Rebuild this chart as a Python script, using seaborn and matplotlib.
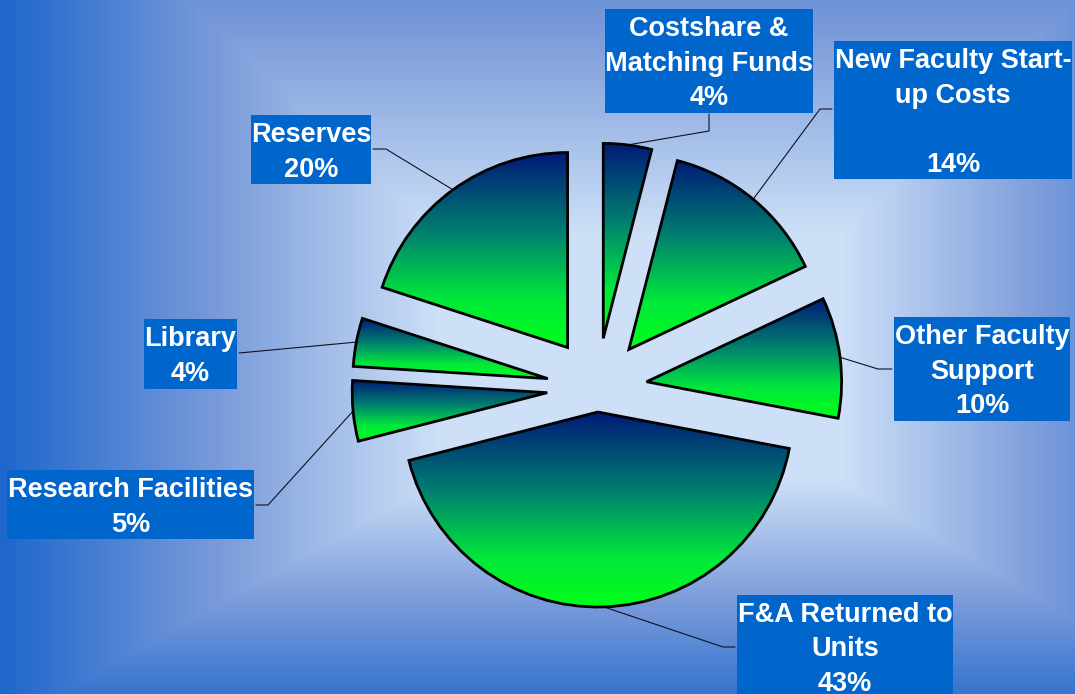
import numpy as np
import matplotlib
matplotlib.use("Agg")
import matplotlib.pyplot as plt
import seaborn as sns
from matplotlib.colors import LinearSegmentedColormap
from matplotlib.patches import Rectangle

# slices, clockwise from 12 o'clock
categories = ["Costshare &\nMatching Funds", "New Faculty Start-\nup Costs\n",
              "Other Faculty\nSupport", "F&A Returned to\nUnits",
              "Research Facilities", "Library", "Reserves"]
shares = [4, 14, 10, 43, 5, 4, 20]

# layout (pixels): label boxes, leader line start + elbow, slice explosion
boxes = [(605, 9, 813, 113), (834, 41, 1072, 179), (894, 317, 1070, 421),
         (737, 595, 953, 700), (7, 470, 254, 539), (144, 319, 237, 389),
         (251, 115, 371, 184)]
leaders = [((709, 114), (709, 131)), ((832, 109), (820, 109)),
           ((892, 369), (878, 369)), ((735, 647), (723, 647)),
           ((256, 505), (268, 505)), ((239, 353), (239, 353)),
           ((373, 149), (386, 149))]
explode = [50, 50, 50, 24, 50, 50, 50]

W, H = 1075, 694
sns.set_theme(style="white")
plt.rcParams["font.family"] = ["Liberation Sans", "DejaVu Sans"]

fig = plt.figure(figsize=(W / 100, H / 100), dpi=100)
ax = fig.add_axes([0, 0, 1, 1])

# background: rectangular gradient, light in the middle, blue at the edges
yy, xx = np.mgrid[0:H, 0:W] + 0.5
tx = np.maximum((440 - xx) / 440, (xx - 840) / 412)
ty = np.maximum((235 - yy) / 410, (yy - 480) / 245)
t = np.clip(np.maximum(tx, ty), 0, 1)
bg_cmap = sns.blend_palette(["#cde0f7", "#7a9bda", "#1f67cc"], as_cmap=True)
ax.imshow(t, cmap=bg_cmap, vmin=0, vmax=1, extent=(0, W, H, 0),
          aspect="auto", zorder=0, interpolation="bilinear")

wedges, _ = ax.pie(shares, explode=explode, startangle=-90, counterclock=True,
                   radius=195, center=(597, 388), frame=True,
                   wedgeprops=dict(edgecolor="black", linewidth=2.0,
                                   facecolor="none"))

wedge_cmap = LinearSegmentedColormap.from_list(
    "navy_green", [(0, "#001a78"), (0.4, "#007e70"), (0.75, "#00e83a"),
                   (1, "#00ff1a")])
grad = np.linspace(0, 1, 256)[:, None]
for w in wedges:
    ext = w.get_path().get_extents()
    im = ax.imshow(grad, cmap=wedge_cmap, extent=(ext.x0, ext.x1, ext.y1, ext.y0),
                   aspect="auto", zorder=2, interpolation="bilinear")
    im.set_clip_path(w)
    w.set_zorder(3)

for w, name, share, (x0, y0, x1, y1), (start, elbow) in zip(
        wedges, categories, shares, boxes, leaders):
    th = np.deg2rad((w.theta1 + w.theta2) / 2)
    anchor = (w.center[0] + w.r * np.cos(th), w.center[1] + w.r * np.sin(th))
    ax.plot([start[0], elbow[0], anchor[0]], [start[1], elbow[1], anchor[1]],
            color="#111122", lw=0.8, zorder=1)
    ax.add_patch(Rectangle((x0, y0), x1 - x0, y1 - y0, facecolor="#0066cc",
                           edgecolor="none", zorder=4))
    cx = (x0 + x1) / 2
    for i, line in enumerate(f"{name}\n{share}%".split("\n")):
        ax.text(cx, y0 + 27 + 34.5 * i, line, ha="center", va="baseline",
                color="white", fontsize=19.5, fontweight="bold", zorder=5)

ax.set_xlim(0, W)
ax.set_ylim(H, 0)
ax.axis("off")
fig.savefig("out.png", dpi=100)
